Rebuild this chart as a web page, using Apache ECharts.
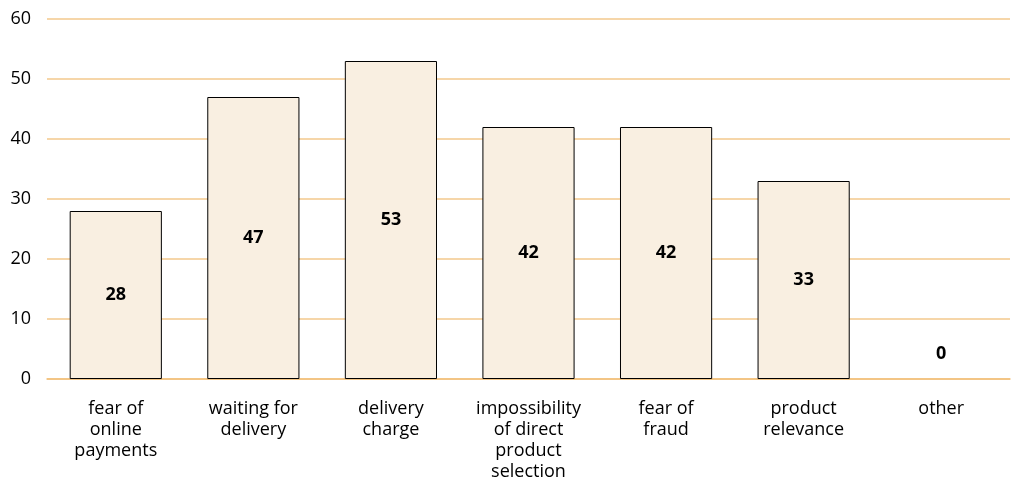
<!DOCTYPE html>
<html>
<head>
<meta charset="utf-8">
<script src="https://cdn.jsdelivr.net/npm/echarts@6/dist/echarts.min.js"></script>
<style>html,body{margin:0;padding:0;background:#fff}#c{width:1011px;height:477px}</style>
</head>
<body>
<div id="c"></div>
<script>
var categories = ['fear of\nonline\npayments', 'waiting for\ndelivery', 'delivery\ncharge', 'impossibility\nof direct\nproduct\nselection', 'fear of\nfraud', 'product\nrelevance', 'other'];
var values = [28, 47, 53, 42, 42, 33, 0];
var yTicks = [0, 10, 20, 30, 40, 50, 60];

var chart = echarts.init(document.getElementById('c'));
var font = '"Open Sans", "Noto Sans", sans-serif';
chart.setOption({
  animation: false,
  grid: { left: 47, right: 1, top: 19, bottom: 98, outerBoundsMode: 'none', containLabel: false },
  xAxis: {
    type: 'category',
    data: categories,
    axisLine: { show: true, lineStyle: { color: '#F2C07A', width: 1.5 } },
    axisTick: { show: false },
    splitLine: { show: false },
    axisLabel: { color: '#000', fontFamily: font, fontSize: 18, lineHeight: 21, margin: 19, interval: 0 }
  },
  yAxis: {
    type: 'value',
    min: yTicks[0],
    max: yTicks[yTicks.length - 1],
    interval: 10,
    axisLine: { show: false },
    axisTick: { show: false },
    splitLine: { show: true, lineStyle: { color: '#F3C98C', width: 1.5, type: 'solid' } },
    axisLabel: { color: '#000', fontFamily: font, fontSize: 18, margin: 16 }
  },
  series: [{
    type: 'bar',
    barCategoryGap: '33%',
    data: values.map(function (v) {
      return v === 0
        ? { value: v, itemStyle: { borderWidth: 0 }, label: { position: 'top', distance: 16 } }
        : v;
    }),
    itemStyle: { color: '#F9EFE1', borderColor: '#000', borderWidth: 1 },
    label: { show: true, position: 'inside', color: '#000', fontWeight: 'bold', fontFamily: font, fontSize: 18 }
  }]
});
</script>
</body>
</html>
